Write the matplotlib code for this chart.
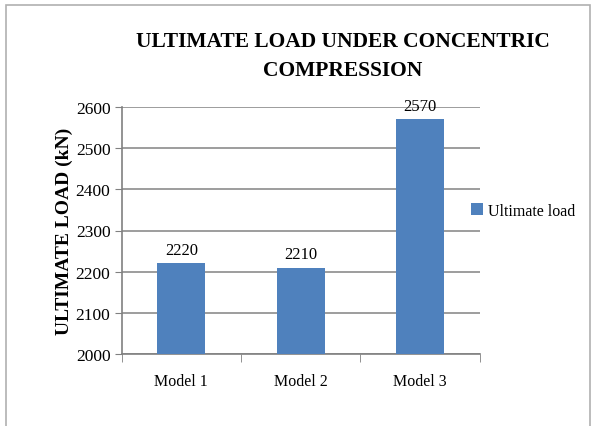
import numpy as np
import matplotlib.pyplot as plt
from matplotlib.patches import Rectangle

categories = ['Model 1', 'Model 2', 'Model 3']
ultimate_load = [2220, 2210, 2570]
yticks = [2000, 2100, 2200, 2300, 2400, 2500, 2600]

plt.rcParams['font.family'] = ['Liberation Serif', 'DejaVu Serif']

fig = plt.figure(figsize=(5.96, 4.27), dpi=100)
fig.patches.append(Rectangle((6 / 596, -0.05), 584 / 596, 1.05 - 6 / 427, transform=fig.transFigure,
                             fill=False, edgecolor='#b0b0b0', linewidth=1.2))

ax = fig.add_axes([121.5 / 596, 1 - 355 / 427, 358.5 / 596, 247 / 427])
x = np.arange(len(categories))
bars = ax.bar(x, ultimate_load, width=0.4, color='#4f81bd', zorder=3, label='Ultimate load')
for b, v in zip(bars, ultimate_load):
    ax.text(b.get_x() + b.get_width() / 2, v + 14, str(v), ha='center', va='bottom', fontsize=12)

ax.set_xlim(-0.5, 2.5)
ax.set_ylim(2000, 2600)
ax.set_yticks(yticks)
ax.tick_params(axis='y', labelsize=12.5, length=5, color='#808080', pad=3)
ax.set_xticks(x)
ax.set_xticklabels(categories, fontsize=11.5)
ax.tick_params(axis='x', length=0, pad=14)
ax.set_xticks([-0.5, 0.5, 1.5, 2.5], minor=True)
ax.tick_params(axis='x', which='minor', length=6, color='#808080')
ax.yaxis.grid(True, color='#8c8c8c', linewidth=1.2, zorder=0)
for s in ['top', 'right']:
    ax.spines[s].set_visible(False)
for s in ['left', 'bottom']:
    ax.spines[s].set_color('#808080')
    ax.spines[s].set_linewidth(1.2)

ax.set_ylabel('ULTIMATE LOAD (kN)', fontsize=14, fontweight='bold', labelpad=2)
fig.suptitle('ULTIMATE LOAD UNDER CONCENTRIC\nCOMPRESSION', fontsize=15.5, fontweight='bold',
             x=343 / 596, y=1 - 32 / 427, va='top', linespacing=1.6)

ax.legend(loc='center left', bbox_to_anchor=(0.975, 0.58), frameon=False, fontsize=11.5,
          borderaxespad=0, borderpad=0, handlelength=0.75, handleheight=0.75, handletextpad=0.3)

fig.savefig('out.png', dpi=100)
